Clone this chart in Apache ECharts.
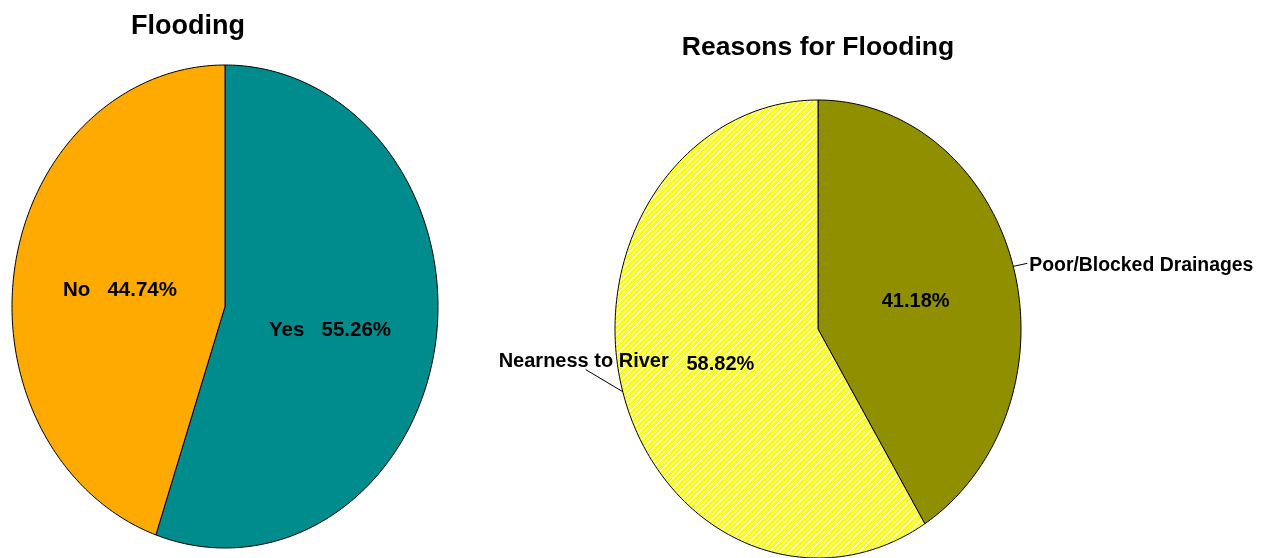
<!DOCTYPE html>
<html>
<head>
<meta charset="utf-8">
<script src="https://cdn.jsdelivr.net/npm/echarts@6/dist/echarts.min.js"></script>
<style>
html,body{margin:0;padding:0;background:#fff;}
#chart{width:1271px;height:558px;}
</style>
</head>
<body>
<div id="chart"></div>
<script>
// ---- data ----
const pie1Title = 'Flooding';
const pie1Names = ['Yes', 'No'];
const pie1Values = [55.26, 44.74];
const pie1Colors = ['#008C8C', '#FFAA00'];

const pie2Title = 'Reasons for Flooding';
const pie2Names = ['Poor/Blocked Drainages', 'Nearness to River'];
const pie2Values = [41.18, 58.82];
const pie2Colors = ['#8F8F00', 'hatch'];

// ---- layout ----
const pie1Geo = { cx: 225, cy: 306.5, rx: 213, ry: 241.5 };
const pie2Geo = { cx: 818, cy: 329, rx: 203, ry: 229 };
const FONT = '"Liberation Sans", Arial, sans-serif';
const LABEL_DY = 4;

// hatch pattern (yellow with white "/" stripes)
function makeHatch() {
  const n = 5;
  const c = document.createElement('canvas');
  c.width = n; c.height = n;
  const ctx = c.getContext('2d');
  ctx.fillStyle = '#FFFF00';
  ctx.fillRect(0, 0, n, n);
  ctx.fillStyle = '#FFFFFF';
  for (let x = 0; x < n; x++) {
    for (let y = 0; y < n; y++) {
      if ((x + y) % n === 0) ctx.fillRect(x, y, 1, 1);
    }
  }
  ctx.fillStyle = 'rgba(255,255,255,0.55)';
  for (let x = 0; x < n; x++) {
    for (let y = 0; y < n; y++) {
      if ((x + y) % n === 1) ctx.fillRect(x, y, 1, 1);
    }
  }
  return { image: c, repeat: 'repeat' };
}
const hatch = makeHatch();

function buildData(names, values) {
  const total = values.reduce((a, b) => a + b, 0);
  let cum = 0;
  return values.map((v, i) => {
    const d = { name: names[i], value: [v, cum, total] };
    cum += v;
    return d;
  });
}

function pt(geo, frac, k) {
  const th = frac * Math.PI * 2;
  return [geo.cx + geo.rx * k * Math.sin(th), geo.cy - geo.ry * k * Math.cos(th)];
}

// label offsets relative to the slice's edge point
const outsideLabels = {
  'Poor/Blocked Drainages': { lx: 14, ly: -3, tx: 16, ty: -1, align: 'left', size: 19.4 },
  'Nearness to River': { lx: -37, ly: -22, tx: 46, ty: -30, align: 'right', size: 20 }
};

function makeRender(geo, names, colors, labelMode) {
  return function (params, api) {
    const v = api.value(0), start = api.value(1), total = api.value(2);
    const f0 = start / total, f1 = (start + v) / total;
    const pts = [[geo.cx, geo.cy]];
    const steps = Math.max(8, Math.ceil((f1 - f0) * 360));
    for (let s = 0; s <= steps; s++) {
      pts.push(pt(geo, f0 + (f1 - f0) * s / steps, 1));
    }
    const col = colors[params.dataIndex];
    const children = [{
      type: 'polygon',
      shape: { points: pts },
      style: { fill: col === 'hatch' ? hatch : col, stroke: '#000', lineWidth: 1 }
    }];
    const fm = (f0 + f1) / 2;
    const c = pt(geo, fm, 0.5);
    const name = names[params.dataIndex];
    const pctText = v.toFixed(2) + '%';
    if (labelMode === 'inside') {
      children.push({
        type: 'text',
        style: {
          text: name + '   ' + pctText, x: c[0], y: c[1] + LABEL_DY,
          align: 'center', verticalAlign: 'middle',
          font: 'bold 20.5px ' + FONT, fill: '#000'
        }
      });
    } else {
      children.push({
        type: 'text',
        style: {
          text: pctText, x: c[0], y: c[1] + LABEL_DY,
          align: 'center', verticalAlign: 'middle',
          font: 'bold 20px ' + FONT, fill: '#000'
        }
      });
      const e = pt(geo, fm, 1);
      const lab = outsideLabels[name];
      children.push({
        type: 'polyline',
        shape: { points: [e, [e[0] + lab.lx, e[1] + lab.ly]] },
        style: { stroke: '#000', lineWidth: 1, fill: null }
      });
      children.push({
        type: 'text',
        style: {
          text: name, x: e[0] + lab.tx, y: e[1] + lab.ty,
          align: lab.align, verticalAlign: 'middle',
          font: 'bold ' + lab.size + 'px ' + FONT, fill: '#000'
        }
      });
    }
    return { type: 'group', children: children };
  };
}

const chart = echarts.init(document.getElementById('chart'), null, { renderer: 'canvas' });
chart.setOption({
  backgroundColor: '#fff',
  animation: false,
  graphic: [
    { type: 'text', x: 188, y: 27, style: { text: pie1Title, align: 'center', verticalAlign: 'middle',
      font: 'bold 27px ' + FONT, fill: '#000' } },
    { type: 'text', x: 818, y: 48, style: { text: pie2Title, align: 'center', verticalAlign: 'middle',
      font: 'bold 26.5px ' + FONT, fill: '#000' } }
  ],
  series: [
    { type: 'custom', coordinateSystem: 'none', data: buildData(pie1Names, pie1Values),
      renderItem: makeRender(pie1Geo, pie1Names, pie1Colors, 'inside') },
    { type: 'custom', coordinateSystem: 'none', data: buildData(pie2Names, pie2Values),
      renderItem: makeRender(pie2Geo, pie2Names, pie2Colors, 'outside') }
  ]
});
</script>
</body>
</html>
